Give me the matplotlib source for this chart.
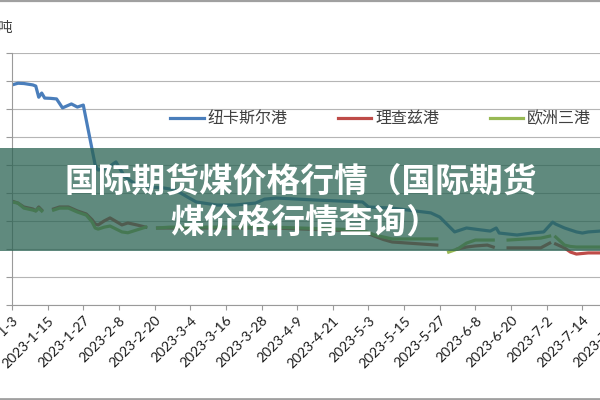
import numpy as np
import pandas as pd
import matplotlib
matplotlib.use("Agg")
import matplotlib.pyplot as plt
from matplotlib.patches import Rectangle
from matplotlib.lines import Line2D

plt.rcParams['font.family'] = ['Noto Sans CJK SC', 'DejaVu Sans']

# 纽卡斯尔港 (估读)
nc_dates = ['2023-01-03', '2023-01-05', '2023-01-07', '2023-01-10', '2023-01-11', '2023-01-12',
            '2023-01-13', '2023-01-14', '2023-01-16', '2023-01-18', '2023-01-20', '2023-01-23',
            '2023-01-25', '2023-01-27', '2023-01-31', '2023-02-01', '2023-02-04', '2023-02-07',
            '2023-02-10', '2023-02-13', '2023-02-19', '2023-02-23', '2023-02-27', '2023-03-03',
            '2023-03-06', '2023-03-13', '2023-03-19', '2023-03-26', '2023-03-29', '2023-04-02',
            '2023-04-15', '2023-05-01', '2023-05-03', '2023-05-11', '2023-05-24', '2023-05-27',
            '2023-06-01', '2023-06-05', '2023-06-10', '2023-06-13', '2023-06-15', '2023-06-16',
            '2023-06-22', '2023-06-27', '2023-07-01', '2023-07-04', '2023-07-05', '2023-07-08',
            '2023-07-12', '2023-07-14', '2023-07-16', '2023-07-20']
nc_vals = [393, 396, 395.5, 393, 391, 371,
           378.5, 369.5, 369, 368, 352, 359,
           353.5, 357, 250, 241, 244.5, 255.5,
           228.5, 218, 210.5, 209, 205.5, 193,
           184, 178.5, 178.5, 182, 189, 191,
           187.5, 184, 175, 173, 164.5, 157,
           130.5, 137.5, 134, 132, 137.5, 128.5,
           125, 128.5, 130.5, 148, 144.5, 137.5,
           130.5, 128.5, 130.5, 132]

# 理查兹港 / 欧洲三港 (nan = 缺数据)
ot_dates = ['2023-01-03', '2023-01-05', '2023-01-07', '2023-01-10', '2023-01-11', '2023-01-12',
            '2023-01-13', '2023-01-15', '2023-01-17', '2023-01-19', '2023-01-22', '2023-01-25',
            '2023-01-28', '2023-01-30', '2023-01-31', '2023-02-01', '2023-02-03', '2023-02-05',
            '2023-02-09', '2023-02-11', '2023-02-14', '2023-02-17', '2023-02-19', '2023-02-21',
            '2023-02-25', '2023-03-06', '2023-04-01', '2023-05-01', '2023-05-05', '2023-05-08',
            '2023-05-11', '2023-05-26', '2023-05-28', '2023-05-30', '2023-06-02', '2023-06-05',
            '2023-06-08', '2023-06-12', '2023-06-14', '2023-06-16', '2023-06-19', '2023-06-30',
            '2023-07-03', '2023-07-04', '2023-07-05', '2023-07-08', '2023-07-10', '2023-07-12',
            '2023-07-16', '2023-07-20']
rb_vals = [185.5, 182, 175, 171.5, 168, 175,
           169.5, np.nan, 171.5, 175, 175, 168,
           162.5, 152, 144.5, 143, 150, 155.5,
           143, 146.5, 143, 139, np.nan, 137.5,
           137.5, 137.5, 137.5, 132, 123, 117,
           112.5, 107, np.nan, np.nan, 100, 103.5,
           105.5, 107, 103.5, np.nan, 102, 102,
           110.5, np.nan, 109, 102, 94.5, 91,
           93, 93]
ara_vals = [184, 182, 173, 169.5, 168, 173,
            168, np.nan, 169.5, 173, 173, 166,
            160.5, 148, 137.5, 135.5, 139, 141,
            130.5, 129, 134, 139, np.nan, 137.5,
            139, 139, 139, 134, 125, 121.5,
            118, 118, np.nan, 94.5, 100, 110.5,
            116, 116, 116, np.nan, 116, 119.5,
            123, np.nan, 121.5, 107, 104.5, 103.5,
            103.5, 103.5]

series_names = ['纽卡斯尔港', '理查兹港', '欧洲三港']
series_colors = ['#4a7ebb', '#be4b48', '#98b954']

title_lines = ['国际期货煤价格行情（国际期货', '煤价格行情查询）']

start = pd.Timestamp('2023-01-03')
tick_dates = pd.date_range(start, periods=18, freq='12D')
tick_labels = [f'{d.year}-{d.month}-{d.day}' for d in tick_dates]

fig = plt.figure(figsize=(6, 4), dpi=100)
ax = fig.add_axes([12 / 600, 95 / 400, 606 / 600, 252 / 400])

ax.plot(pd.to_datetime(nc_dates), nc_vals, color=series_colors[0], lw=2.3,
        solid_joinstyle='round', label=series_names[0])
ax.plot(pd.to_datetime(ot_dates), rb_vals, color=series_colors[1], lw=2.3,
        solid_joinstyle='round', label=series_names[1])
ax.plot(pd.to_datetime(ot_dates), ara_vals, color=series_colors[2], lw=2.3,
        solid_joinstyle='round', label=series_names[2])

ax.set_xlim(start, start + pd.Timedelta(days=200))
ax.set_ylim(0, 450)
ax.set_yticks(np.arange(0, 451, 50))
ax.tick_params(axis='y', labelleft=False, length=4.5, color='#9a9a9a', width=0.8)
ax.grid(axis='y', color='#b5b5b5', lw=0.8)
ax.set_axisbelow(True)

ax.set_xticks(tick_dates)
ax.set_xticklabels(tick_labels, rotation=45, ha='right', rotation_mode='anchor',
                   fontsize=10, family='Lato', color='#1a1a1a')
ax.tick_params(axis='x', length=3.6, color='#9a9a9a', width=0.8, pad=3)

for s in ['top', 'right']:
    ax.spines[s].set_visible(False)
for s in ['left', 'bottom']:
    ax.spines[s].set_color('#9a9a9a')
    ax.spines[s].set_linewidth(0.8)

fig.legend(loc='center left', bbox_to_anchor=(170 / 600, 281 / 400), ncol=3, frameon=False,
           fontsize=11.5, handlelength=2.1, handletextpad=0.25, columnspacing=3.15,
           borderpad=0, borderaxespad=0, labelcolor='#404040')

fig.text(13 / 600, 1 - 27 / 400, '美元/吨', ha='right', va='center', fontsize=10.5, color='#404040')

# 标题横幅
fig.add_artist(Rectangle((0, 1 - 251 / 400), 1, 103 / 400, transform=fig.transFigure,
                         facecolor='#2b6353', alpha=0.75, edgecolor='none'))
fig.text(301 / 600, 1 - 181 / 400, title_lines[0], ha='center', va='center',
         fontsize=24.3, fontweight='heavy', color='white')
fig.text(305 / 600, 1 - 222 / 400, title_lines[1], ha='center', va='center',
         fontsize=24.3, fontweight='heavy', color='white')

# 外框
fig.add_artist(Line2D([0, 1], [1 - 0.8 / 400, 1 - 0.8 / 400], transform=fig.transFigure,
                      color='#a0a0a0', lw=1.6))
fig.add_artist(Line2D([0, 1], [1.3 / 400, 1.3 / 400], transform=fig.transFigure,
                      color='#a0a0a0', lw=2))

fig.savefig('out.png', dpi=100)
